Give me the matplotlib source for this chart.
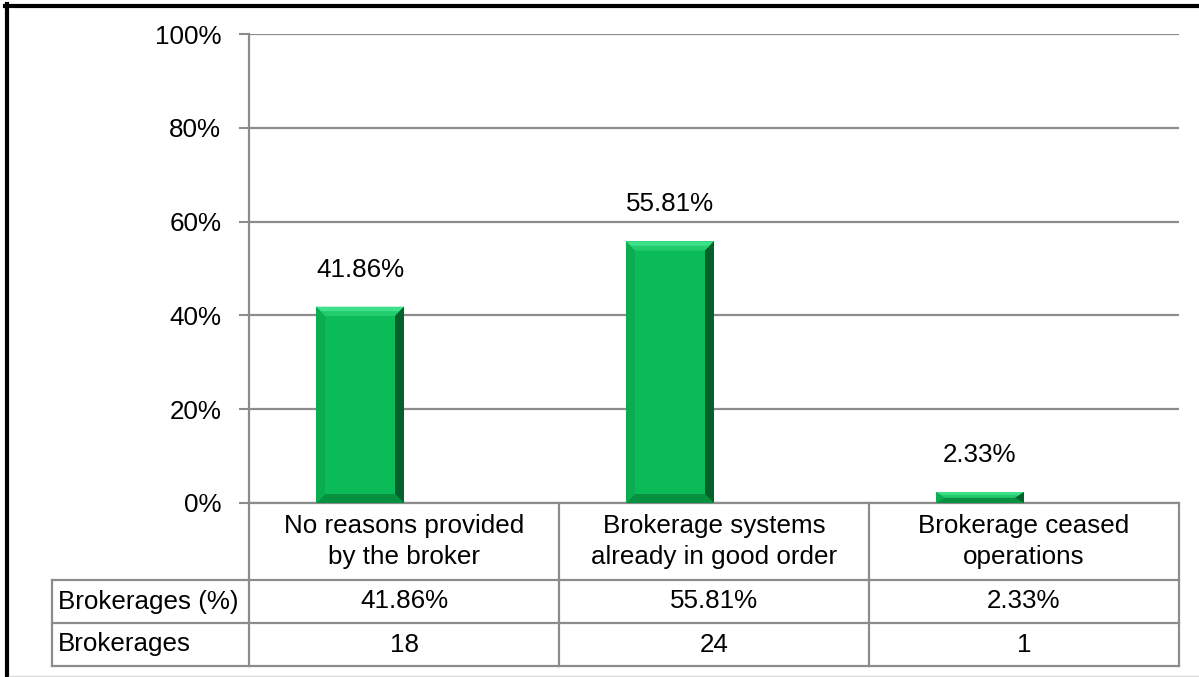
import numpy as np
import matplotlib
matplotlib.use('Agg')
import matplotlib.pyplot as plt
from matplotlib.patches import Polygon
from matplotlib.lines import Line2D

plt.rcParams['font.family'] = ['Liberation Sans', 'DejaVu Sans']

categories = ['No reasons provided\nby the broker',
              'Brokerage systems\nalready in good order',
              'Brokerage ceased\noperations']
pct = [41.86, 55.81, 2.33]
counts = [18, 24, 1]
row_names = ['Brokerages (%)', 'Brokerages']
yticks = [0, 20, 40, 60, 80, 100]

face = '#0bbb57'
grid_c = '#8c8c8c'
fs = 18.7

fig = plt.figure(figsize=(11.99, 6.77), dpi=100)
ax = fig.add_axes([249/1199, 1-503/677, 930/1199, 469/677])
x = np.arange(len(categories))
ax.set_xlim(-0.5, len(categories)-0.5)
ax.set_ylim(0, 100)

ax.set_yticks(yticks)
ax.set_yticklabels([f'{t}%' for t in yticks], fontsize=fs)
ax.tick_params(axis='y', length=7, width=1.5, color=grid_c, pad=13)
ax.tick_params(axis='x', bottom=False, labelbottom=False)
ax.yaxis.grid(True, color=grid_c, lw=1.6)
ax.set_axisbelow(True)
for s in ['top', 'right']:
    ax.spines[s].set_visible(False)
ax.spines['left'].set_color(grid_c)
ax.spines['left'].set_linewidth(1.6)
ax.spines['bottom'].set_color(grid_c)
ax.spines['bottom'].set_linewidth(1.6)

# bevelled bars; the % series sits in the left slot of a two-bar cluster
w = 0.284
xb = x - w/2
ax.bar(xb, pct, width=w, color=face, zorder=2)
px_x = ax.bbox.width / 3.0
px_y = ax.bbox.height / 100.0
bev = 9
for xi, h in zip(xb, pct):
    x0, x1 = xi - w/2, xi + w/2
    bx = bev / px_x
    by = min(bev / px_y, h/2)
    top = [(x0, h), (x1, h), (x1-bx, h-by), (x0+bx, h-by)]
    right = [(x1, h), (x1, 0), (x1-bx, by), (x1-bx, h-by)]
    bot = [(x0, 0), (x1, 0), (x1-bx, by), (x0+bx, by)]
    left = [(x0, 0), (x0, h), (x0+bx, h-by), (x0+bx, by)]
    for pts, c in [(top, '#3ee089'), (bot, '#07903f'), (left, '#0aae50'), (right, '#04612b')]:
        ax.add_patch(Polygon(pts, closed=True, color=c, lw=0, zorder=3))
    # softer inner edge on top band
    ax.add_patch(Polygon([(x0+bx*0.5, h-by*0.5), (x1-bx*0.5, h-by*0.5), (x1-bx, h-by), (x0+bx, h-by)],
                         closed=True, color='#22cc6c', lw=0, zorder=3))
    ax.annotate(f'{h:.2f}%', (xi, h), xytext=(0, 18), textcoords='offset points',
                ha='center', va='bottom', fontsize=fs)

# data table under the axis
tr = ax.transAxes
row_y = [0, -77/469, -120/469, -163/469]
left_x = -197/930
col_x = [0, 1/3, 2/3, 1]
lk = dict(transform=tr, color=grid_c, lw=1.6, clip_on=False, zorder=5)
for y in row_y[1:]:
    ax.add_line(Line2D([left_x, 1], [y, y], **lk))
ax.add_line(Line2D([left_x, left_x], [row_y[1], row_y[3]], **lk))
for cx in col_x:
    ax.add_line(Line2D([cx, cx], [row_y[0], row_y[3]], **lk))

for i, c in enumerate(categories):
    ax.text((i+0.5)/3, (row_y[0]+row_y[1])/2, c, transform=tr, ha='center', va='center',
            fontsize=fs, linespacing=1.35)
rows = [[f'{p:.2f}%' for p in pct], [str(n) for n in counts]]
for r, (name, vals) in enumerate(zip(row_names, rows)):
    yc = (row_y[r+1] + row_y[r+2]) / 2
    ax.text(left_x + 6/930, yc, name, transform=tr, ha='left', va='center', fontsize=fs)
    for i, v in enumerate(vals):
        ax.text((i+0.5)/3, yc, v, transform=tr, ha='center', va='center', fontsize=fs)

# chart frame
fig.add_artist(Line2D([7/1199, 7/1199], [0, 1-4/677], color='black', lw=3))
fig.add_artist(Line2D([5/1199, 1], [1-5.5/677, 1-5.5/677], color='black', lw=3))
fig.add_artist(Line2D([9/1199, 1], [1.5/677, 1.5/677], color='#d9d9d9', lw=1))

fig.savefig('out.png', dpi=100)
